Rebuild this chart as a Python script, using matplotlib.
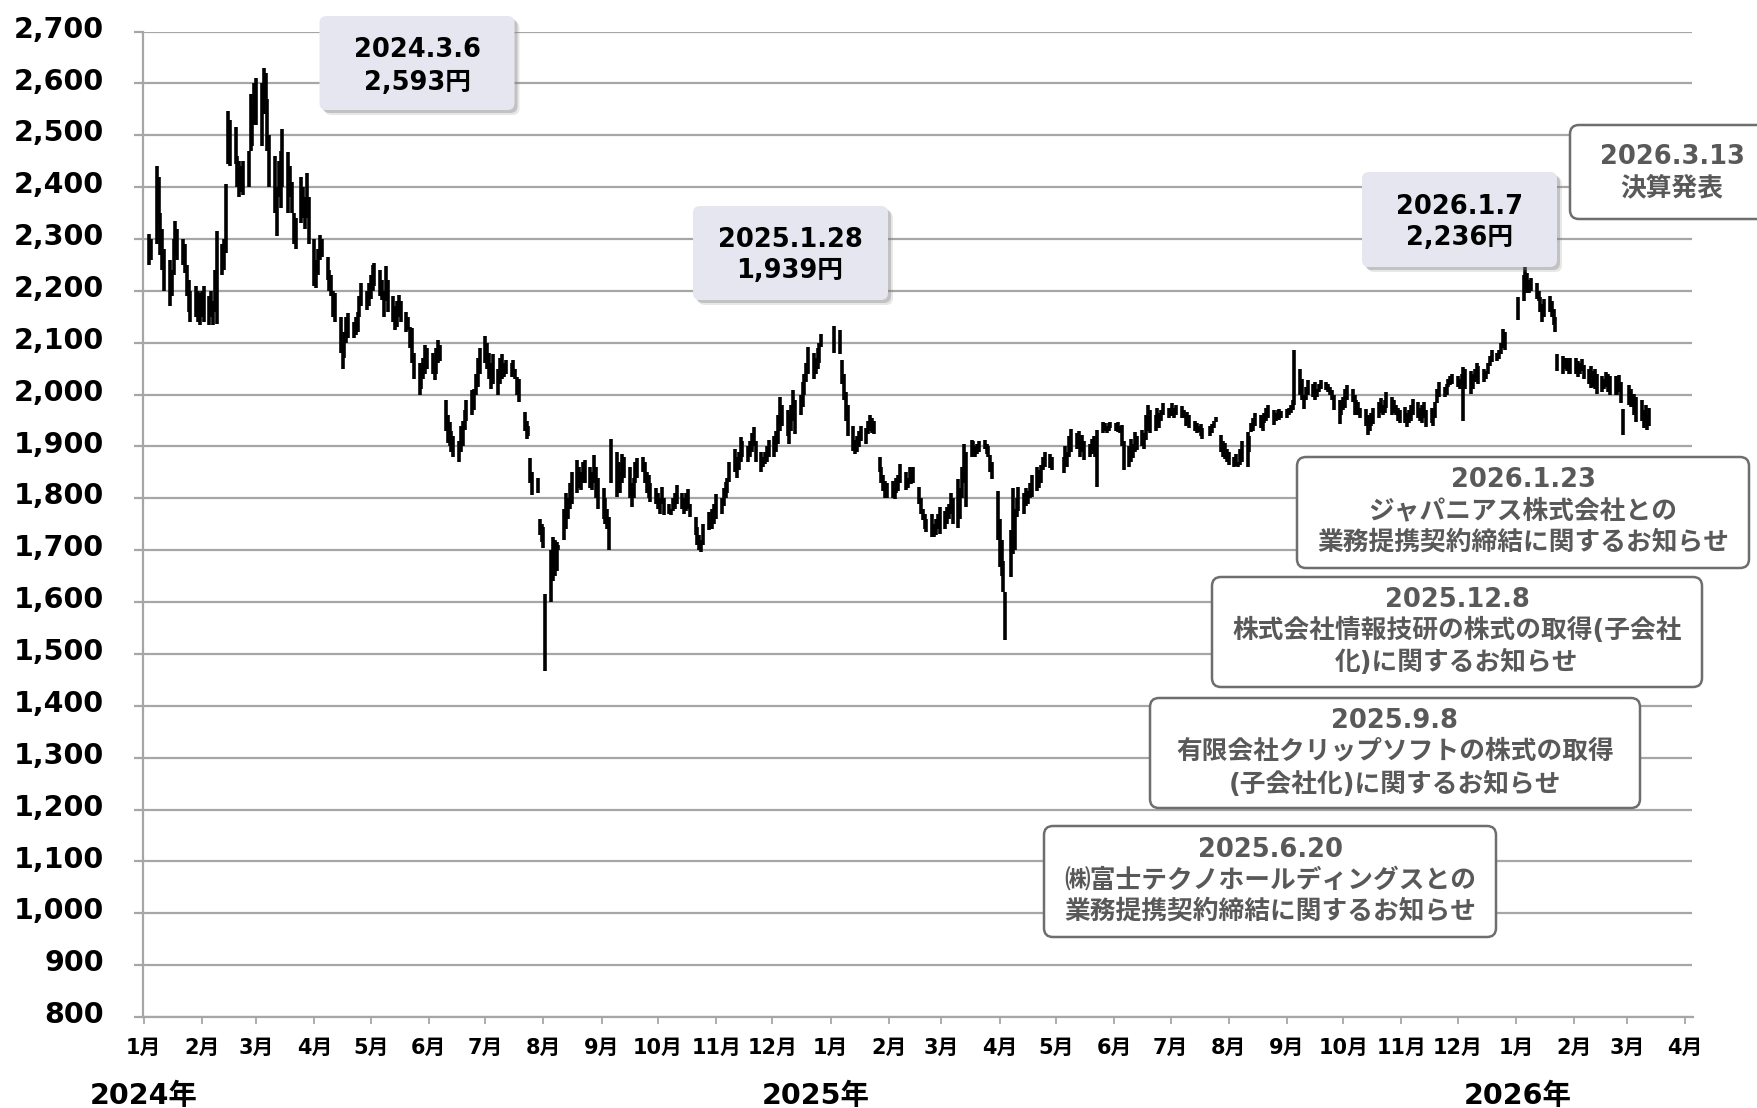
import numpy as np
import pandas as pd
import matplotlib
matplotlib.use("Agg")
import matplotlib.pyplot as plt
import matplotlib.transforms as mtrans
from matplotlib.patches import FancyBboxPatch
from matplotlib.transforms import IdentityTransform

W, H = 1758, 1108
N = None  # no trading (holidays)

# daily high / low per month
months = ['2024-01', '2024-02', '2024-03', '2024-04', '2024-05', '2024-06',
          '2024-07', '2024-08', '2024-09', '2024-10', '2024-11', '2024-12',
          '2025-01', '2025-02', '2025-03', '2025-04', '2025-05', '2025-06',
          '2025-07', '2025-08', '2025-09', '2025-10', '2025-11', '2025-12',
          '2026-01', '2026-02', '2026-03']

high = [
    [2310, 2300, 2440, 2420, 2350, 2320, 2280, 2260, 2240, 2300, 2335, 2320, 2300, 2290, 2250, 2220, 2200, 2210, 2200, 2195],
    [2200, 2210, 2190, 2200, 2180, 2240, 2315, 2290, 2300, 2406, 2547, 2530, 2515, 2460, 2450, 2440, 2450, 2470, 2580, 2560, 2600],
    [2610, 2600, 2630, 2620, 2570, 2500, 2460, 2400, 2450, 2470, 2512, 2467, 2440, 2410, 2350, 2340, 2420, 2400, 2380, 2428, 2380],
    [2300, 2260, 2280, 2307, 2300, 2265, 2240, 2230, 2200, 2195, 2150, 2100, 2120, 2150, 2158, 2140, 2150, 2160, 2190, 2215, 2200, 2215],
    [2230, 2250, 2254, 2240, 2220, 2200, 2247, 2220, 2190, 2170, 2180, 2192, 2180, 2160, 2150, 2130, 2128, 2080, 2060, 2050, 2070, 2095, 2090],
    [2080, 2060, 2090, 2106, 2095, 1990, 1960, 1948, 1930, 1920, 1910, 1940, 1950, 1970, 1990, 2009, 2010, 2040, 2070, 2090],
    [2112, 2100, 2080, 2060, 2079, 2050, 2070, 2079, 2060, 2066, 2060, 2066, 2050, 2034, 2030, 1967, 1950, 1940, 1877, 1850, 1840, 1761, 1750],
    [1745, 1616, 1700, 1726, 1720, 1715, 1710, 1780, 1810, 1800, 1830, 1850, 1874, 1860, 1850, 1870, 1874, 1860, 1850, 1883, 1860, 1840],
    [1820, 1800, 1780, 1764, 1915, 1890, 1870, 1850, 1886, 1880, 1860, 1830, 1840, 1870, 1877, 1879, 1870, 1850, 1844, 1830, 1820],
    [1810, 1800, 1822, 1800, 1790, 1780, 1800, 1810, 1825, 1810, 1800, 1810, 1818, 1790, 1764, 1745, 1730, 1720, 1750, 1773, 1760, 1780, 1790],
    [1809, 1800, 1820, 1831, 1840, 1870, 1895, 1880, 1890, 1918, 1910, 1900, 1910, 1925, 1937, 1910, 1890, 1880, 1890, 1900, 1912],
    [1920, 1930, 1960, 1995, 1980, 1970, 1960, 1980, 2008, 1990, 2000, 2024, 2040, 2060, 2092, 2080, 2070, 2090, 2100, 2117, N, N],
    [N, N, 2133, 2125, 2066, 2040, 2005, 1980, 1940, 1912, 1920, 1930, 1940, 1935, 1950, 1960, 1955, 1950, 1880, 1860, 1845, 1834, 1830],
    [1834, 1820, 1840, 1844, 1867, 1850, 1840, 1860, 1855, 1860, 1822, 1800, 1780, 1770, 1760, 1770, 1750, 1760, 1770, 1783],
    [1775, 1783, 1790, 1810, 1800, 1838, 1820, 1860, 1905, 1890, 1912, 1910, 1900, 1905, 1910, 1912, 1905, 1900, 1883, 1870, 1815],
    [1760, 1720, 1680, 1620, 1738, 1819, 1780, 1800, 1822, 1810, 1820, 1815, 1830, 1845, 1860, 1855, 1865, 1880, 1890, 1885, 1880, N],
    [N, N, 1880, 1900, 1890, 1920, 1934, 1925, 1930, 1915, 1922, 1910, 1905, 1915, 1920, 1910, 1931, 1947, 1945, 1940, 1945, 1947],
    [1945, 1947, 1940, 1941, 1910, 1900, 1915, 1905, 1928, 1920, 1932, 1925, 1960, 1980, 1970, 1960, 1975, 1965, 1970, 1983, 1975],
    [1975, 1983, 1975, 1980, 1978, 1970, 1960, 1967, 1960, 1950, 1945, 1940, 1944, 1935, N, 1940, 1944, 1950, 1956, 1922, 1910, 1906, 1895],
    [1890, 1880, 1885, 1870, 1895, 1910, 1928, 1920, 1945, 1955, 1964, 1960, 1950, 1965, 1975, 1980, 1970, 1965, 1970, 1973, 1968],
    [1972, 1975, 1980, 1990, 2086, 2050, 2030, 2000, 2015, 2028, 2020, 2025, 2010, 2020, 2028, 2025, 2020, 2015, 2009, 2000, 1990, 1985],
    [1995, 2010, 2018, 2010, 2000, 1990, 1985, 1975, 1973, 1960, 1955, 1965, 1975, 1985, 1993, 1980, 1990, 2005, 1995, 1990, 1980, 1975, 1970],
    [1976, 1965, 1970, 1980, 1992, 1985, 1975, 1980, 1986, 1970, 1975, 1960, 1985, 2010, 2024, 2015, 2020, 2030, 2035, 2040],
    [2035, 2030, 2040, 2053, 2050, 2045, 2040, 2050, 2060, 2055, 2050, 2045, 2060, 2075, 2086, 2080, 2085, 2100, 2127, 2120, N, N, N],
    [N, 2188, 2230, 2246, 2235, 2220, 2224, 2215, 2200, 2188, 2175, 2185, 2191, 2180, 2165, 2150, 2079, 2075, 2070, 2070, 2065, 2070],
    [2070, 2065, 2060, 2068, 2057, 2050, 2055, 2045, 2050, 2040, 2035, 2030, 2044, 2040, 2035, 2035, 2030, 2037, 2025, 1973],
    [2018, 2010, 2000, 2002, 1995, 1989, 1970, 1980, 1960, 1975],
]

low = [
    [2250, 2260, 2290, 2330, 2270, 2240, 2200, 2170, 2190, 2230, 2270, 2260, 2250, 2235, 2190, 2160, 2140, 2150, 2140, 2135],
    [2150, 2140, 2135, 2150, 2135, 2160, 2137, 2230, 2240, 2272, 2445, 2440, 2445, 2400, 2380, 2390, 2385, 2400, 2470, 2480, 2520],
    [2520, 2480, 2540, 2560, 2470, 2400, 2350, 2305, 2380, 2360, 2400, 2350, 2380, 2350, 2290, 2280, 2330, 2340, 2320, 2340, 2290],
    [2210, 2205, 2230, 2260, 2265, 2220, 2200, 2190, 2150, 2140, 2080, 2050, 2070, 2100, 2110, 2110, 2115, 2120, 2150, 2170, 2163, 2170],
    [2185, 2200, 2210, 2190, 2183, 2150, 2180, 2160, 2140, 2124, 2130, 2150, 2140, 2121, 2125, 2090, 2060, 2030, 2000, 2010, 2030, 2040, 2050],
    [2040, 2028, 2040, 2060, 2065, 1930, 1906, 1900, 1890, 1880, 1870, 1890, 1900, 1931, 1950, 1960, 1970, 2000, 2015, 2040],
    [2060, 2050, 2030, 2010, 2020, 1999, 2020, 2030, 2034, 2040, 2034, 2040, 2030, 2000, 1986, 1930, 1915, 1920, 1830, 1806, 1810, 1730, 1716],
    [1705, 1468, 1600, 1640, 1650, 1660, 1700, 1720, 1740, 1760, 1780, 1790, 1810, 1820, 1816, 1830, 1830, 1820, 1816, 1830, 1800, 1780],
    [1760, 1751, 1740, 1700, 1830, 1803, 1820, 1810, 1830, 1840, 1800, 1784, 1800, 1830, 1840, 1850, 1829, 1810, 1800, 1793, 1790],
    [1780, 1770, 1790, 1767, 1770, 1767, 1775, 1780, 1790, 1780, 1770, 1775, 1780, 1764, 1730, 1710, 1700, 1697, 1710, 1738, 1740, 1740, 1750],
    [1760, 1770, 1786, 1800, 1810, 1831, 1850, 1840, 1854, 1870, 1880, 1870, 1880, 1890, 1900, 1870, 1850, 1860, 1867, 1870, 1880],
    [1880, 1890, 1905, 1930, 1940, 1920, 1905, 1930, 1950, 1924, 1960, 1976, 2000, 2024, 2040, 2030, 2040, 2050, 2060, 2092, N, N],
    [N, N, 2080, 2079, 2020, 1989, 1950, 1920, 1892, 1886, 1890, 1899, 1910, 1905, 1924, 1930, 1925, 1924, 1850, 1830, 1815, 1800, 1800],
    [1800, 1799, 1810, 1815, 1830, 1816, 1820, 1830, 1828, 1830, 1790, 1770, 1758, 1740, 1735, 1726, 1726, 1730, 1740, 1732],
    [1740, 1750, 1760, 1770, 1750, 1742, 1760, 1800, 1830, 1783, 1880, 1885, 1880, 1885, 1890, 1895, 1885, 1880, 1850, 1838, 1720],
    [1668, 1650, 1620, 1526, 1648, 1693, 1700, 1764, 1775, 1770, 1785, 1790, 1800, 1803, 1815, 1820, 1830, 1854, 1860, 1858, 1855, N],
    [N, N, 1848, 1860, 1860, 1880, 1890, 1895, 1900, 1880, 1890, 1873, 1880, 1885, 1890, 1880, 1822, 1925, 1930, 1925, 1930, 1935],
    [1930, 1928, 1925, 1900, 1854, 1860, 1870, 1877, 1890, 1893, 1900, 1895, 1912, 1930, 1925, 1930, 1940, 1935, 1950, 1960, 1954],
    [1958, 1960, 1955, 1960, 1954, 1955, 1940, 1945, 1935, 1930, 1925, 1928, 1920, 1915, N, 1920, 1925, 1935, 1948, 1890, 1880, 1875, 1870],
    [1865, 1861, 1862, 1861, 1865, 1870, 1861, 1890, 1928, 1930, 1940, 1935, 1930, 1945, 1950, 1955, 1941, 1950, 1955, 1951, 1955],
    [1955, 1960, 1964, 1970, 1980, 2000, 1990, 1973, 1990, 2000, 1995, 1989, 1995, 2005, 2010, 2008, 2005, 2000, 1990, 1970, 1944, 1960],
    [1970, 1975, 1990, 1985, 1960, 1962, 1960, 1955, 1940, 1922, 1930, 1940, 1944, 1955, 1965, 1960, 1965, 1975, 1960, 1965, 1960, 1950, 1945],
    [1945, 1938, 1945, 1950, 1960, 1955, 1950, 1945, 1955, 1938, 1945, 1940, 1955, 1983, 1995, 1995, 2000, 2015, 2018, 2020],
    [2015, 2010, 2020, 1950, 2010, 2002, 2010, 2025, 2030, 2021, 2025, 2030, 2040, 2055, 2063, 2065, 2068, 2079, 2090, 2085, N, N, N],
    [N, 2143, 2180, 2200, 2195, 2195, 2200, 2185, 2180, 2160, 2140, 2150, 2160, 2150, 2135, 2121, 2045, 2040, 2050, 2045, 2040, 2040],
    [2040, 2034, 2040, 2045, 2030, 2020, 2012, 2015, 2010, 2002, 2005, 2010, 2015, 2005, 1999, 2000, 1999, 2005, 1983, 1922],
    [1980, 1976, 1976, 1960, 1947, 1950, 1935, 1945, 1931, 1940],
]

first_day, last_day = '2024-01-04', '2026-03-13'
y_ticks = list(range(800, 2701, 100))
month_ticks = pd.date_range('2024-01-01', '2026-04-01', freq='MS')
month_labels = [f'{d.month}月' for d in month_ticks]
years = ['2024年', '2025年', '2026年']
year_at = ['2024-01-01', '2024-12-24', '2026-01-02']

# call-out texts
peaks = [['2024.3.6', '2,593円'], ['2025.1.28', '1,939円'], ['2026.1.7', '2,236円']]
news = [
    ['2026.3.13', '決算発表'],
    ['2026.1.23', 'ジャパニアス株式会社との', '業務提携契約締結に関するお知らせ'],
    ['2025.12.8', '株式会社情報技研の株式の取得(子会社', '化)に関するお知らせ'],
    ['2025.9.8', '有限会社クリップソフトの株式の取得', '(子会社化)に関するお知らせ'],
    ['2025.6.20', '㈱富士テクノホールディングスとの', '業務提携契約締結に関するお知らせ'],
]

FAM = ['DejaVu Sans', 'Noto Sans CJK JP']
GRID = '#A6A6A6'
GRAYTXT = '#595959'

# build daily series
dates, hi, lo = [], [], []
for m, hh, ll in zip(months, high, low):
    start = pd.Timestamp(m + '-01')
    days = pd.bdate_range(start, start + pd.offsets.MonthEnd(0))
    days = days[(days >= first_day) & (days <= last_day)]
    assert len(days) == len(hh) == len(ll), (m, len(days), len(hh), len(ll))
    for d, a, b in zip(days, hh, ll):
        if a is not None:
            dates.append(d)
            hi.append(a)
            lo.append(b)

fig = plt.figure(figsize=(W / 100, H / 100), dpi=100)
left, right, top, bottom = 143.5, 1692.5, 31.5, 1017
ax = fig.add_axes([left / W, 1 - bottom / H, (right - left) / W, (bottom - top) / H])

ax.vlines(dates, lo, hi, colors='black', linewidth=2.6, zorder=3)

ax.set_xlim(pd.Timestamp('2024-01-01'), pd.Timestamp('2026-04-05'))
ax.set_ylim(800, 2700)
ax.set_yticks(y_ticks)
ax.set_yticklabels([f'{v:,}' for v in y_ticks], fontsize=20.5, fontweight='bold', family=FAM)
ax.set_xticks(month_ticks)
ax.set_xticklabels(month_labels, fontsize=15, fontweight='bold', family=FAM)
ax.grid(axis='y', color=GRID, linewidth=1.6)
ax.set_axisbelow(True)
for s in ['top', 'right']:
    ax.spines[s].set_visible(False)
for s in ['left', 'bottom']:
    ax.spines[s].set_color(GRID)
    ax.spines[s].set_linewidth(1.6)
ax.tick_params(axis='y', length=6.5, width=1.6, color=GRID, pad=22)
ax.tick_params(axis='x', length=5, width=1.3, color=GRID, pad=10)

# y labels sit a little above their gridlines in the original
up = mtrans.ScaledTranslation(0, 3.5 / 72, fig.dpi_scale_trans)
for lab in ax.get_yticklabels():
    lab.set_transform(lab.get_transform() + up)

for txt, d in zip(years, year_at):
    ax.text(pd.Timestamp(d), (bottom - 1096) / (bottom - top), txt,
            transform=ax.get_xaxis_transform(), ha='center', va='center',
            fontsize=20.5, fontweight='bold', family=FAM)


def box(x0, y0, x1, y1, face, edge=None, lw=0, r=7, shadow=False):
    if shadow:
        for off, a in [(5, 0.18), (3, 0.35)]:
            sh = FancyBboxPatch((x0 + off, H - y1 - off), x1 - x0, y1 - y0,
                                boxstyle=f'round,pad=0,rounding_size={r}',
                                transform=IdentityTransform(), facecolor='#7f7f7f',
                                edgecolor='none', alpha=a, zorder=4)
            fig.add_artist(sh)
    p = FancyBboxPatch((x0, H - y1), x1 - x0, y1 - y0,
                       boxstyle=f'round,pad=0,rounding_size={r}',
                       transform=IdentityTransform(), facecolor=face,
                       edgecolor=edge if edge else 'none', linewidth=lw, zorder=5)
    fig.add_artist(p)


def lines(cx, ys, texts, color, size=18.5):
    for y, t in zip(ys, texts):
        fig.text(cx / W, 1 - y / H, t, ha='center', va='center', color=color,
                 fontsize=size, fontweight='bold', family=FAM, zorder=6)


# peak call-outs (lavender, shadowed)
peak_boxes = [(319.5, 16, 514.5, 110, 418, [50, 83]),
              (693, 206, 888, 300, 790, [240, 271]),
              (1362, 172, 1557, 267, 1460, [207, 238])]
for (x0, y0, x1, y1, cx, ys), t in zip(peak_boxes, peaks):
    box(x0, y0, x1, y1, '#E6E6F0', shadow=True)
    lines(cx, ys, t, 'black')

# news call-outs (white, gray border)
news_boxes = [(1570, 125, 1790, 219, 1672, [157, 188]),
              (1297, 457, 1749, 568, 1523, [480, 511, 543]),
              (1212, 577, 1702, 687, 1457, [600, 631, 663]),
              (1150, 698, 1640, 808, 1395, [721, 752, 785]),
              (1044, 826, 1496, 937, 1270, [850, 881, 912])]
for (x0, y0, x1, y1, cx, ys), t in zip(news_boxes, news):
    box(x0, y0, x1, y1, 'white', edge='#6E6E6E', lw=1.8, r=9)
    lines(cx, ys, t, GRAYTXT)

fig.savefig('out.png', dpi=100)
